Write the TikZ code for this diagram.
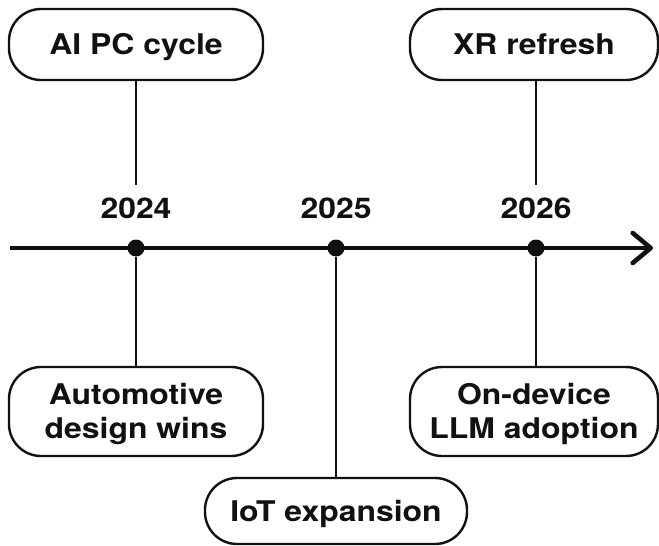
\documentclass[tikz,border=0pt]{standalone}
\usepackage{fontspec}
\setmainfont{TeX Gyre Heros}[FakeStretch=1.12]
\usetikzlibrary{arrows.meta}
\definecolor{ink}{HTML}{111111}
\begin{document}
\begin{tikzpicture}[x=1pt,y=-1pt,
  box/.style={draw=ink, line width=2.4pt, rounded corners=32pt, inner sep=0pt,
    text=ink, font=\fontsize{28.5}{34}\selectfont\bfseries, align=center},
  onebox/.style={box, text height=20.5pt, text depth=0pt},
  twobox/.style={box, text height=54.5pt, text depth=0pt},
  year/.style={text=ink, font=\fontsize{28.5}{34}\selectfont\bfseries, anchor=base, inner sep=0pt},
  conn/.style={draw=ink, line width=2.6pt},
  axisline/.style={draw=ink, line width=4.6pt},
  dot/.style={circle, fill=ink, minimum size=17pt, inner sep=0pt}]
\useasboundingbox[fill=white] (0,0) rectangle (659,546);

% top boxes
\node[onebox, minimum width=254pt, minimum height=71pt] (aipc) at (136,44.5) {AI PC cycle};
\node[onebox, minimum width=248pt, minimum height=71pt] (xr) at (534,44.5) {XR refresh};

% bottom boxes
\node[twobox, minimum width=254pt, minimum height=89pt] (auto) at (136,411.5) {Automotive\\design wins};
\node[twobox, minimum width=248pt, minimum height=89pt] (llm) at (534,411.5) {On-device\\LLM adoption};
\node[onebox, minimum width=262pt, minimum height=66pt] (iot) at (336,511) {IoT expansion};

% year labels
\node[year] (y24) at (136,218) {2024};
\node[year] (y25) at (336,218) {2025};
\node[year] (y26) at (536,218) {2026};

% axis
\coordinate (axstart) at (10,248);
\coordinate (axtip) at (653,248);
\draw[axisline, -{Straight Barb[length=18pt,width=30pt,line cap=round,line join=round]}] (axstart) -- (axtip);

% dots
\node[dot] (d24) at (136,248) {};
\node[dot] (d25) at (336,248) {};
\node[dot] (d26) at (536,248) {};

% connector ends above year labels
\coordinate (c24) at (136,185);
\coordinate (c26) at (536,185);

\draw[conn] (aipc.south -| c24) -- (c24);
\draw[conn] (xr.south -| c26) -- (c26);
\draw[conn] (d24) -- (auto.north -| d24);
\draw[conn] (d25) -- (iot.north -| d25);
\draw[conn] (d26) -- (llm.north -| d26);
\end{tikzpicture}
\end{document}
